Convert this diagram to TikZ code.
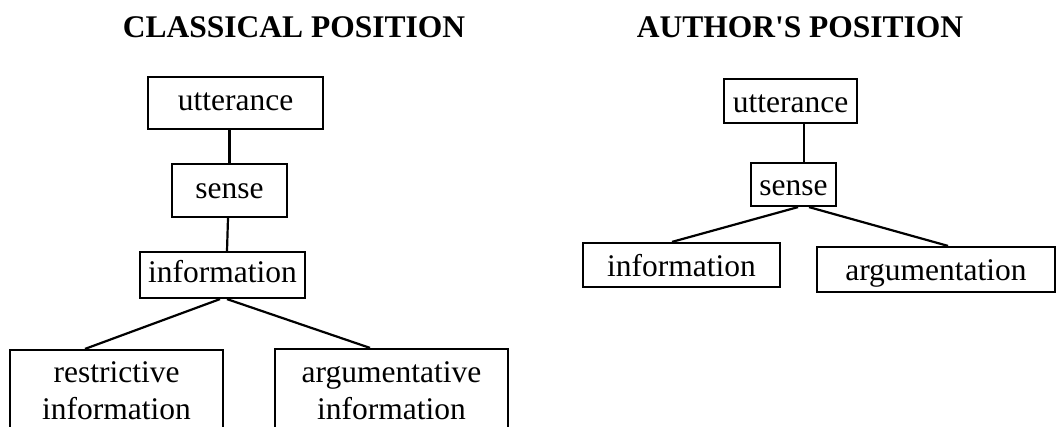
\documentclass[tikz,border=0pt]{standalone}
\usepackage{fontspec}
\setmainfont{Liberation Serif}
\usepackage{tikz}

\tikzset{
	lbox/.style={draw, line width=2.2pt, inner sep=0pt, align=center, font=\fontsize{31.5}{37}\selectfont},
	onebox/.style={lbox, text height=21pt, text depth=6pt},
	lowbox/.style={lbox, text height=24pt, text depth=2pt},
	ptitle/.style={anchor=base, inner sep=0pt, font=\fontsize{31.5}{37}\selectfont\bfseries},
	link/.style={line width=2.2pt}
}

\begin{document}
\begin{tikzpicture}[x=1pt, y=-1pt]
		\useasboundingbox (0,0) rectangle (1056,426);
		\clip (0,0) rectangle (1056,426);
		\node[ptitle] (tclass) at (294,37) {CLASSICAL POSITION};
		\node[ptitle] (tauth) at (800,37) {AUTHOR\textquotesingle S POSITION};
		\node[onebox, minimum width=175pt, minimum height=52pt] (utt) at (235.5,103) {utterance};
		\node[onebox, minimum width=115pt, minimum height=53pt] (sns) at (229.5,190.5) {sense};
		\node[onebox, minimum width=165pt, minimum height=46pt] (inf) at (222.5,275) {information};
		\node[lbox, minimum width=213pt, minimum height=82pt] (rinf) at (116.5,391) {restrictive\\information};
		\node[lbox, minimum width=233pt, minimum height=84pt] (ainf) at (391.5,391) {argumentative\\information};
		\node[lowbox, minimum width=133pt, minimum height=44pt] (utt2) at (790.5,101) {utterance};
		\node[lowbox, minimum width=85pt, minimum height=43pt] (sns2) at (793.5,184.5) {sense};
		\node[lowbox, minimum width=197pt, minimum height=44pt] (inf2) at (681.5,265) {information};
		\node[lowbox, minimum width=238pt, minimum height=45pt] (arg2) at (936,269.5) {argumentation};
		\path[link]
		(sns.north |- utt.south) edge (sns.north)
		([xshift=-1.5pt]sns.south) edge ([xshift=4.5pt]inf.north)
		([xshift=-2.5pt]inf.south) edge ([xshift=-31.5pt]rinf.north)
		([xshift=4.5pt]inf.south) edge ([xshift=-21.5pt]ainf.north)
		;
		\path[link]
		([xshift=10.5pt]sns2.north |- utt2.south) edge ([xshift=10.5pt]sns2.north)
		([xshift=4.5pt]sns2.south) edge ([xshift=-9.5pt]inf2.north)
		([xshift=15.5pt]sns2.south) edge ([xshift=12pt]arg2.north)
		;
	\end{tikzpicture}
\end{document}
